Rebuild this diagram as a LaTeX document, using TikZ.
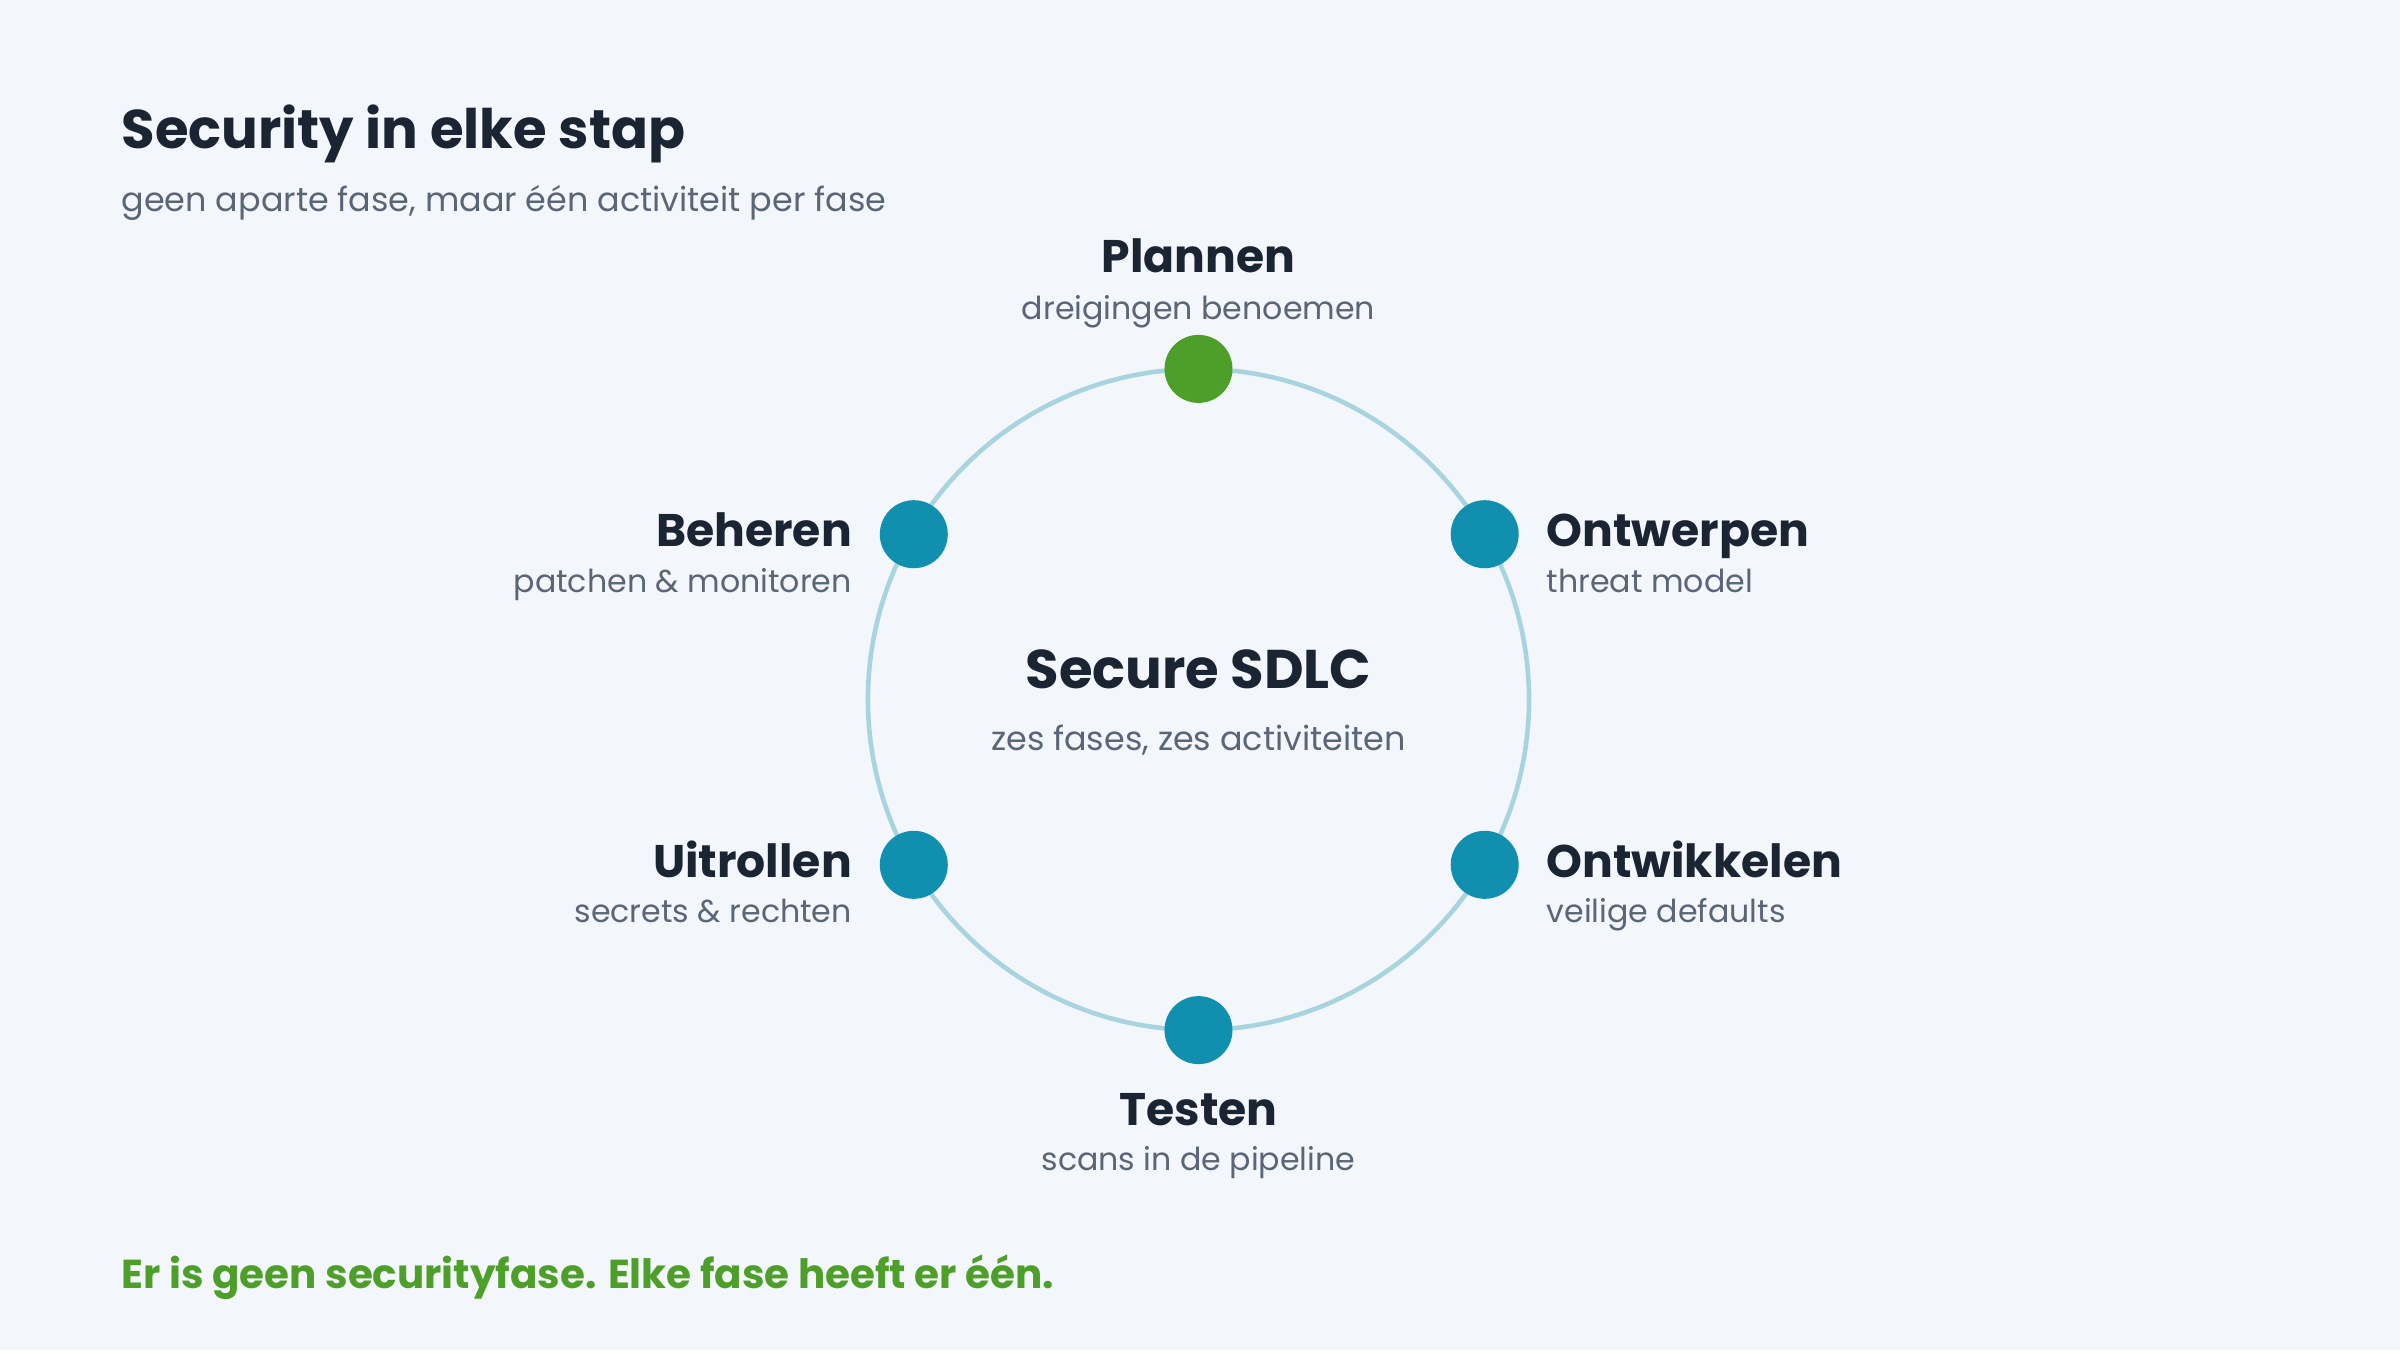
\documentclass[tikz,border=0pt]{standalone}
\usepackage{fontspec}
\setmainfont{Poppins}
\definecolor{bg}{HTML}{F3F6FA}
\definecolor{ring}{HTML}{A8D4DF}
\definecolor{dot}{HTML}{118FAF}
\definecolor{grn}{HTML}{4E9F2A}
\definecolor{ink}{HTML}{1A2433}
\definecolor{sub}{HTML}{5A6678}
\begin{document}
\begin{tikzpicture}[x=0.015306cm,y=-0.015306cm,
  dotst/.style={circle,fill=dot,minimum size=0.68cm,inner sep=0},
  nm/.style={text=ink,font=\fontsize{13}{15}\selectfont\bfseries,inner sep=0},
  sb/.style={text=sub,font=\fontsize{9}{11}\selectfont,inner sep=0}]
\fill[bg] (0,0) rectangle (1568,882);
\useasboundingbox (0,0) rectangle (1568,882);
\node[anchor=base west,text=ink,font=\fontsize{15.5}{18}\selectfont\bfseries,inner sep=0] (title) at (79,97) {Security in elke stap};
\node[anchor=base west,sb,font=\fontsize{9.5}{11}\selectfont] (subt) at (79,138) {geen aparte fase, maar één activiteit per fase};
\node[draw=ring,line width=1.3pt,circle,minimum size=6.61cm,inner sep=0] (ring) at (783,457) {};
\node[dotst,fill=grn] (d1) at (783,241) {};
\node[dotst] (d2) at (970,349) {};
\node[dotst] (d3) at (970,565) {};
\node[dotst] (d4) at (783,673) {};
\node[dotst] (d5) at (597,565) {};
\node[dotst] (d6) at (597,349) {};
\node[nm,anchor=base] (n1) at (783,178) {Plannen};
\node[sb,anchor=base] (s1) at (783,209) {dreigingen benoemen};
\node[nm,anchor=base west] (n2) at (1010,357) {Ontwerpen};
\node[sb,anchor=base west] (s2) at (1010,387) {threat model};
\node[nm,anchor=base west] (n3) at (1010,573) {Ontwikkelen};
\node[sb,anchor=base west] (s3) at (1010,603) {veilige defaults};
\node[nm,anchor=base] (n4) at (783,735) {Testen};
\node[sb,anchor=base] (s4) at (783,765) {scans in de pipeline};
\node[nm,anchor=base east] (n5) at (557,573) {Uitrollen};
\node[sb,anchor=base east] (s5) at (557,603) {secrets \& rechten};
\node[nm,anchor=base east] (n6) at (557,357) {Beheren};
\node[sb,anchor=base east] (s6) at (557,387) {patchen \& monitoren};
\node[anchor=base,text=ink,font=\fontsize{15.5}{18}\selectfont\bfseries,inner sep=0] (c1) at (783,450) {Secure SDLC};
\node[sb,anchor=base,font=\fontsize{9.5}{11}\selectfont] (c2) at (783,490) {zes fases, zes activiteiten};
\node[anchor=base west,text=grn,font=\fontsize{11.5}{14}\selectfont\bfseries,inner sep=0] (foot) at (79,842) {Er is geen securityfase. Elke fase heeft er één.};
\end{tikzpicture}
\end{document}
